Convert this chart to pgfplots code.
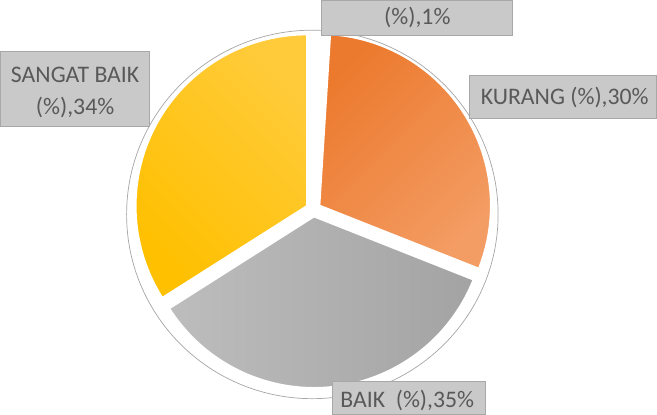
\documentclass[border=0pt]{standalone}
\usepackage{pgfplots}
\usepackage{pgfplotstable}
\pgfplotsset{compat=1.18}
\usepackage{fontspec}
\setmainfont{Carlito}
\definecolor{labfill}{HTML}{C9C9C9}
\definecolor{labdraw}{HTML}{A8A8A8}
\definecolor{labtext}{HTML}{595959}
\definecolor{orA}{HTML}{EC7A2E}
\definecolor{orB}{HTML}{F39C63}
\definecolor{yeA}{HTML}{FFCB3A}
\definecolor{yeB}{HTML}{FFC000}
\definecolor{grA}{HTML}{BDBDBD}
\definecolor{grB}{HTML}{A3A3A3}

\pgfplotstableread{
label value
none 1
KURANG 30
BAIK 35
SANGATBAIK 34
}\piedata

\def\pieCx{317}
\def\pieCy{203}
\def\pieR{170}
\def\pieShift{7}

\tikzset{labbox/.style={fill=labfill, draw=labdraw, line width=0.8bp},
  labtxt/.style={text=labtext, font=\fontsize{23.5bp}{32bp}\selectfont, align=center, inner sep=0pt}}

\begin{document}
\begin{tikzpicture}
\pgfplotstablegetelem{0}{value}\of\piedata \let\vA\pgfplotsretval
\pgfplotstablegetelem{1}{value}\of\piedata \let\vB\pgfplotsretval
\pgfplotstablegetelem{2}{value}\of\piedata \let\vC\pgfplotsretval
\pgfplotstablegetelem{3}{value}\of\piedata \let\vD\pgfplotsretval
\pgfmathsetmacro\aA{0}
\pgfmathsetmacro\aB{\aA+3.6*\vA}
\pgfmathsetmacro\aC{\aB+3.6*\vB}
\pgfmathsetmacro\aD{\aC+3.6*\vC}
\pgfmathsetmacro\aE{\aD+3.6*\vD}
\begin{axis}[hide axis, scale only axis, width=657bp, height=423bp,
  xmin=0, xmax=657, ymin=0, ymax=423, clip=false, at={(0,0)}, anchor=south west]
  \draw[gray!70, line width=0.7bp, fill=white] (axis cs:316,198) ellipse [x radius=184, y radius=182.5];
  \pgfmathsetmacro\mB{(\aB+\aC)/2}
  \pgfmathsetmacro\xB{\pieCx+\pieShift*sin(\mB)}
  \pgfmathsetmacro\yB{\pieCy+\pieShift*cos(\mB)}
  \addplot[draw=white, line width=2bp, top color=orA, middle color=orA, bottom color=orB, shading angle=45, domain=\aB:\aC, samples=90, variable=\t]
    ({\xB+\pieR*sin(t)},{\yB+\pieR*cos(t)}) -- (axis cs:\xB,\yB) -- cycle;
  \pgfmathsetmacro\mC{(\aC+\aD)/2}
  \pgfmathsetmacro\xC{\pieCx+\pieShift*sin(\mC)}
  \pgfmathsetmacro\yC{\pieCy+\pieShift*cos(\mC)}
  \addplot[draw=white, line width=2bp, left color=grA, right color=grB, domain=\aC:\aD, samples=90, variable=\t]
    ({\xC+\pieR*sin(t)},{\yC+\pieR*cos(t)}) -- (axis cs:\xC,\yC) -- cycle;
  \pgfmathsetmacro\mD{(\aD+\aE)/2}
  \pgfmathsetmacro\xD{\pieCx+\pieShift*sin(\mD)}
  \pgfmathsetmacro\yD{\pieCy+\pieShift*cos(\mD)}
  \addplot[draw=white, line width=2bp, top color=yeA, middle color=yeB, bottom color=yeB, shading angle=-45, domain=\aD:\aE, samples=90, variable=\t]
    ({\xD+\pieR*sin(t)},{\yD+\pieR*cos(t)}) -- (axis cs:\xD,\yD) -- cycle;
  \fill[labbox] (axis cs:325,375) rectangle (axis cs:514,410);
  \fill[labbox] (axis cs:472,293) rectangle (axis cs:657,336);
  \fill[labbox] (axis cs:7,285) rectangle (axis cs:155,359);
  \fill[labbox] (axis cs:336,0) rectangle (axis cs:487,33);
  \node[labtxt] at (axis cs:420,393) {(\%),1\%};
  \node[labtxt] at (axis cs:566,314) {KURANG (\%),30\%};
  \node[labtxt] at (axis cs:81,319) {SANGAT BAIK\\(\%),34\%};
  \node[labtxt] at (axis cs:410,14) {BAIK\ \ (\%),35\%};
\end{axis}
\end{tikzpicture}
\end{document}
